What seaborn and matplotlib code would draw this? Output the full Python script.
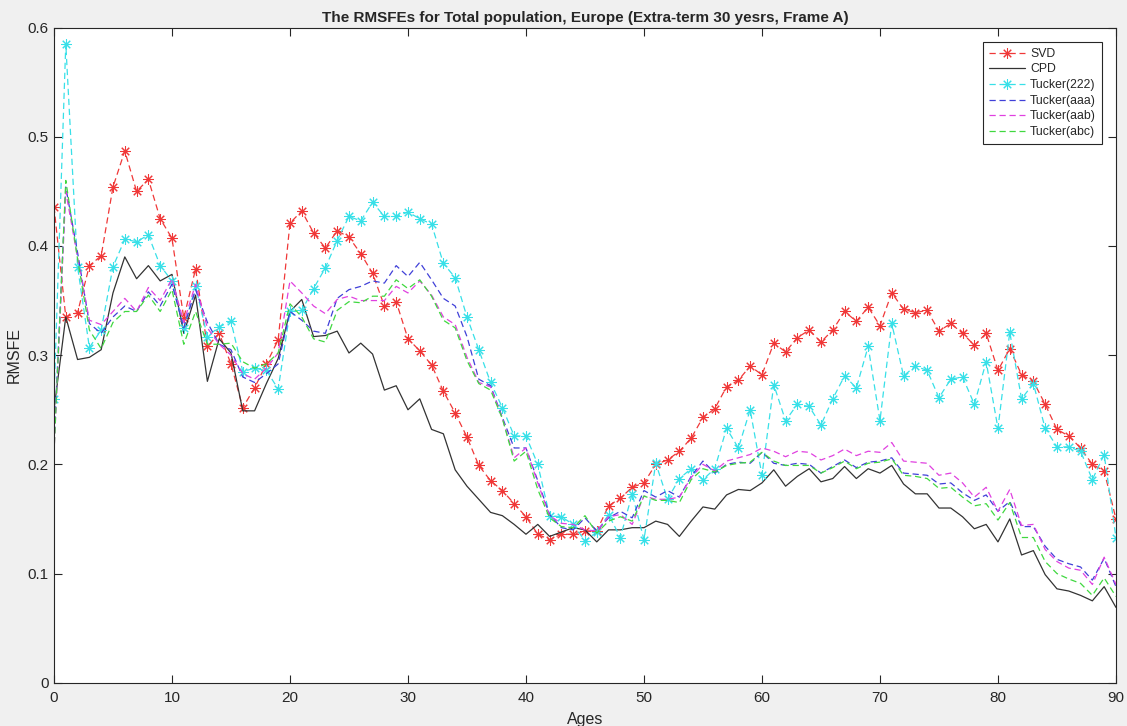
import numpy as np
import pandas as pd
import matplotlib
matplotlib.use("Agg")
import matplotlib.pyplot as plt
from matplotlib.ticker import FuncFormatter
import seaborn as sns

ages = list(range(0, 91))

svd = [0.436, 0.335, 0.339, 0.382, 0.391, 0.454, 0.487, 0.450, 0.461, 0.425,
       0.407, 0.334, 0.379, 0.308, 0.320, 0.292, 0.252, 0.270, 0.292, 0.314,
       0.421, 0.432, 0.412, 0.398, 0.414, 0.408, 0.393, 0.375, 0.345, 0.349,
       0.315, 0.304, 0.291, 0.267, 0.247, 0.225, 0.199, 0.185, 0.176, 0.164,
       0.152, 0.136, 0.131, 0.136, 0.136, 0.139, 0.139, 0.162, 0.169, 0.179,
       0.183, 0.200, 0.204, 0.212, 0.224, 0.243, 0.251, 0.271, 0.277, 0.290,
       0.282, 0.311, 0.303, 0.316, 0.323, 0.312, 0.323, 0.340, 0.331, 0.344,
       0.327, 0.357, 0.342, 0.339, 0.341, 0.322, 0.329, 0.320, 0.309, 0.320,
       0.286, 0.306, 0.282, 0.276, 0.255, 0.232, 0.226, 0.215, 0.200, 0.194,
       0.150]

cpd = [0.250, 0.335, 0.296, 0.298, 0.305, 0.357, 0.390, 0.370, 0.382, 0.368,
       0.374, 0.320, 0.355, 0.276, 0.315, 0.302, 0.249, 0.249, 0.274, 0.297,
       0.340, 0.351, 0.317, 0.318, 0.322, 0.302, 0.311, 0.301, 0.268, 0.272,
       0.250, 0.260, 0.232, 0.228, 0.195, 0.180, 0.168, 0.156, 0.153, 0.145,
       0.136, 0.145, 0.134, 0.138, 0.142, 0.140, 0.129, 0.140, 0.140, 0.142,
       0.142, 0.148, 0.145, 0.134, 0.148, 0.161, 0.159, 0.172, 0.177, 0.176,
       0.183, 0.195, 0.180, 0.189, 0.196, 0.184, 0.187, 0.198, 0.187, 0.196,
       0.192, 0.199, 0.182, 0.173, 0.173, 0.160, 0.160, 0.152, 0.141, 0.145,
       0.129, 0.150, 0.117, 0.121, 0.099, 0.086, 0.084, 0.080, 0.075, 0.088,
       0.069]

tucker222 = [0.260, 0.585, 0.381, 0.307, 0.323, 0.381, 0.406, 0.404, 0.410, 0.382,
             0.368, 0.325, 0.363, 0.317, 0.326, 0.331, 0.285, 0.288, 0.286, 0.269,
             0.340, 0.341, 0.361, 0.380, 0.405, 0.427, 0.423, 0.440, 0.427, 0.427,
             0.431, 0.425, 0.420, 0.384, 0.371, 0.335, 0.305, 0.275, 0.252, 0.226,
             0.226, 0.200, 0.153, 0.152, 0.145, 0.130, 0.138, 0.154, 0.133, 0.173,
             0.131, 0.201, 0.168, 0.187, 0.196, 0.186, 0.196, 0.233, 0.215, 0.250,
             0.190, 0.273, 0.240, 0.255, 0.253, 0.236, 0.260, 0.281, 0.270, 0.308,
             0.240, 0.329, 0.281, 0.290, 0.286, 0.261, 0.278, 0.280, 0.255, 0.294,
             0.233, 0.321, 0.260, 0.274, 0.233, 0.216, 0.216, 0.212, 0.186, 0.209,
             0.133]

tucker_aaa = [0.220, 0.454, 0.394, 0.329, 0.320, 0.335, 0.345, 0.340, 0.358, 0.345,
              0.365, 0.325, 0.360, 0.330, 0.310, 0.305, 0.280, 0.275, 0.283, 0.292,
              0.340, 0.332, 0.322, 0.320, 0.352, 0.360, 0.363, 0.368, 0.366, 0.382,
              0.372, 0.385, 0.369, 0.352, 0.345, 0.317, 0.278, 0.272, 0.243, 0.215,
              0.215, 0.185, 0.154, 0.142, 0.140, 0.151, 0.139, 0.151, 0.157, 0.151,
              0.176, 0.170, 0.176, 0.170, 0.189, 0.203, 0.192, 0.200, 0.202, 0.201,
              0.211, 0.201, 0.199, 0.201, 0.200, 0.192, 0.198, 0.204, 0.197, 0.202,
              0.203, 0.206, 0.192, 0.191, 0.190, 0.182, 0.183, 0.174, 0.167, 0.172,
              0.157, 0.166, 0.143, 0.143, 0.125, 0.113, 0.109, 0.106, 0.094, 0.114,
              0.088]

tucker_aab = [0.210, 0.450, 0.389, 0.332, 0.328, 0.340, 0.352, 0.340, 0.362, 0.350,
              0.370, 0.330, 0.365, 0.325, 0.310, 0.300, 0.283, 0.278, 0.288, 0.302,
              0.368, 0.357, 0.345, 0.338, 0.351, 0.354, 0.350, 0.350, 0.350, 0.363,
              0.357, 0.368, 0.355, 0.335, 0.328, 0.298, 0.275, 0.271, 0.242, 0.206,
              0.215, 0.183, 0.153, 0.146, 0.145, 0.140, 0.139, 0.152, 0.154, 0.145,
              0.171, 0.168, 0.168, 0.170, 0.188, 0.200, 0.194, 0.203, 0.206, 0.209,
              0.215, 0.212, 0.207, 0.212, 0.211, 0.204, 0.208, 0.214, 0.208, 0.212,
              0.211, 0.220, 0.203, 0.202, 0.201, 0.190, 0.192, 0.183, 0.170, 0.179,
              0.157, 0.177, 0.144, 0.145, 0.122, 0.111, 0.105, 0.103, 0.090, 0.115,
              0.090]

tucker_abc = [0.210, 0.460, 0.388, 0.323, 0.306, 0.330, 0.340, 0.340, 0.355, 0.340,
              0.360, 0.310, 0.340, 0.310, 0.310, 0.311, 0.294, 0.288, 0.292, 0.302,
              0.347, 0.335, 0.315, 0.312, 0.341, 0.349, 0.348, 0.354, 0.354, 0.369,
              0.361, 0.369, 0.354, 0.332, 0.325, 0.295, 0.274, 0.268, 0.242, 0.203,
              0.212, 0.177, 0.151, 0.143, 0.142, 0.153, 0.137, 0.148, 0.152, 0.148,
              0.171, 0.167, 0.167, 0.165, 0.186, 0.196, 0.193, 0.199, 0.201, 0.202,
              0.211, 0.203, 0.199, 0.199, 0.199, 0.192, 0.197, 0.203, 0.196, 0.201,
              0.202, 0.205, 0.190, 0.189, 0.187, 0.178, 0.179, 0.170, 0.162, 0.164,
              0.149, 0.165, 0.133, 0.133, 0.111, 0.100, 0.095, 0.091, 0.080, 0.096,
              0.079]

labels = ["SVD", "CPD", "Tucker(222)", "Tucker(aaa)", "Tucker(aab)", "Tucker(abc)"]
xticks = [0, 10, 20, 30, 40, 50, 60, 70, 80, 90]
yticks = [0, 0.1, 0.2, 0.3, 0.4, 0.5, 0.6]

sns.set_style("ticks")
plt.rcParams['font.family'] = ['Liberation Sans', 'DejaVu Sans']

fig = plt.figure(figsize=(11.27, 7.26), dpi=100, facecolor='#f0f0f0')
ax = fig.add_axes([0.0479, 0.0596, 0.9423, 0.9024])
ax.set_facecolor('white')

asterisk = (8, 2, 0)
c_red, c_blk, c_cyan = '#f03838', '#333333', '#38e0e8'
series = [svd, cpd, tucker222, tucker_aaa, tucker_aab, tucker_abc]
styles = [
    dict(color=c_red, linestyle=(0, (5, 3)), marker=asterisk, markersize=7.5,
         markeredgewidth=0.75, markeredgecolor=c_red, markerfacecolor=c_red),
    dict(color=c_blk, linestyle='-'),
    dict(color=c_cyan, linestyle=(0, (5, 3)), marker=asterisk, markersize=7.5,
         markeredgewidth=0.75, markeredgecolor=c_cyan, markerfacecolor=c_cyan),
    dict(color='#4040d8', linestyle=(0, (5, 3))),
    dict(color='#e040e0', linestyle=(0, (5, 3))),
    dict(color='#40d840', linestyle=(0, (5, 3))),
]
for lab, vals, st in zip(labels, series, styles):
    df = pd.DataFrame({"Ages": ages, "RMSFE": vals})
    sns.lineplot(data=df, x="Ages", y="RMSFE", ax=ax, label=lab, linewidth=0.9, **st)

ax.set_xlim(0, 90)
ax.set_ylim(0, 0.6)
ax.set_xticks(xticks)
ax.set_yticks(yticks)
ax.yaxis.set_major_formatter(FuncFormatter(lambda v, p: f"{v:g}"))
ax.tick_params(direction='in', top=True, right=True, length=6, width=0.8,
               labelsize=11, colors='#262626')
ax.tick_params(axis='x', pad=6)
ax.tick_params(axis='y', pad=4)
for s in ax.spines.values():
    s.set_color('#262626')
    s.set_linewidth(0.8)
ax.set_xlabel("Ages", fontsize=11.5, color='#262626', labelpad=5)
ax.set_ylabel("RMSFE", fontsize=11.5, color='#262626', labelpad=4)
ax.set_title("The RMSFEs for Total population, Europe (Extra-term 30 yesrs, Frame A)",
             fontsize=11, fontweight='bold', pad=4)

leg = ax.legend(loc='upper right', bbox_to_anchor=(0.9865, 0.9775), borderaxespad=0,
                fontsize=8.8, frameon=True, fancybox=False, edgecolor='#262626',
                framealpha=1, handlelength=3.0, borderpad=0.45, labelspacing=0.3,
                handletextpad=0.4)
leg.get_frame().set_linewidth(0.8)

fig.savefig("out.png", dpi=100, facecolor=fig.get_facecolor())
